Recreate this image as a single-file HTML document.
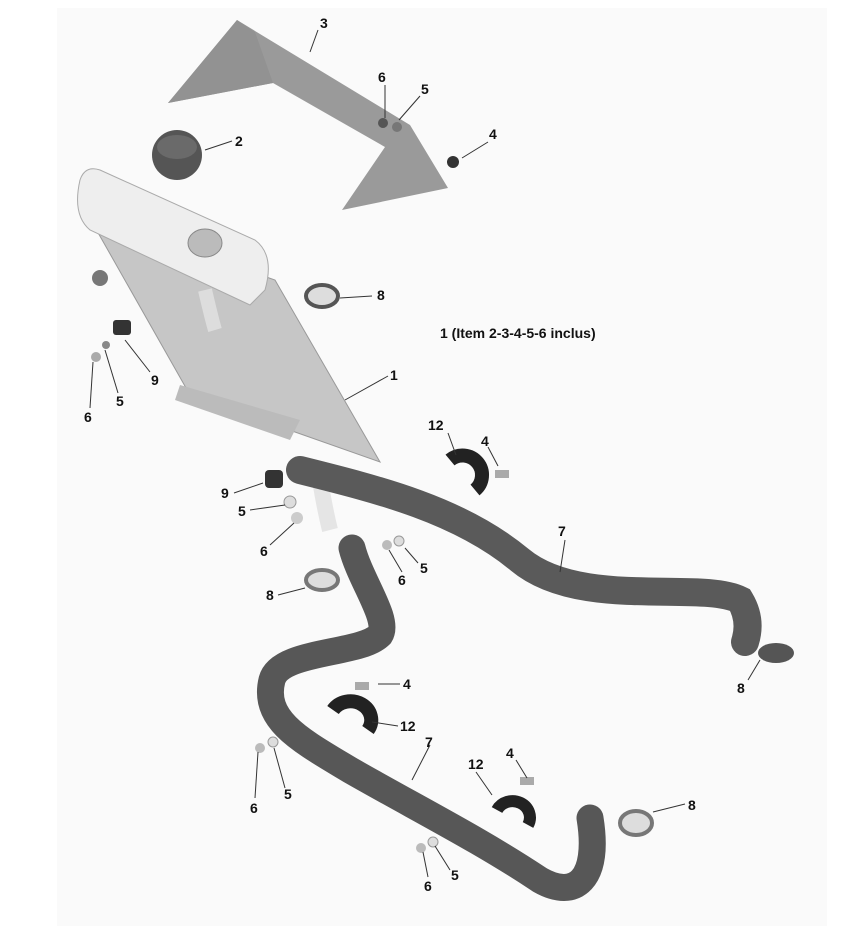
<!DOCTYPE html>
<html><head><style>
html,body{margin:0;padding:0;background:#fff;}
svg{display:block}
text{font-family:"Liberation Sans",Arial,sans-serif;font-weight:bold;font-size:14px;fill:#111}
</style></head><body>
<svg width="857" height="943" viewBox="0 0 857 943">
<rect x="0" y="0" width="857" height="943" fill="#fff"/>
<rect x="57" y="8" width="770" height="918" fill="#fafafa"/>
<!-- bracket 3 -->
<polygon points="168,103 237,20 410,125 448,188 342,210 385,147 273,83" fill="#9a9a9a"/>
<polygon points="237,20 255,32 273,83 168,103" fill="#929292"/>
<!-- cap 2 -->
<circle cx="177" cy="155" r="25" fill="#555"/>
<ellipse cx="177" cy="147" rx="20" ry="12" fill="#6a6a6a"/>
<!-- radiator core -->
<polygon points="88,215 275,280 380,462 190,395" fill="#c6c6c6" stroke="#999"/>
<polygon points="180,385 300,420 290,440 175,400" fill="#bbb"/>
<!-- tank -->
<path d="M80,180 Q85,165 100,170 L255,240 Q275,255 265,290 L250,305 L90,230 Q72,215 80,180Z" fill="#eeeeee" stroke="#aaa"/>
<ellipse cx="205" cy="243" rx="17" ry="14" fill="#bbb" stroke="#888"/>
<path d="M205,290 Q212,320 215,330" stroke="#ddd" stroke-width="14" fill="none"/>
<circle cx="100" cy="278" r="8" fill="#777"/>
<path d="M320,480 Q325,510 330,530" stroke="#e5e5e5" stroke-width="16" fill="none"/>
<!-- hose upper -->
<path d="M300,470 C380,490 460,510 520,560 C580,610 700,580 740,600 Q752,620 745,642" stroke="#5a5a5a" stroke-width="28" fill="none" stroke-linecap="round"/>
<!-- hose lower -->
<path d="M352,548 C360,580 390,620 380,635 C360,655 280,650 272,680 C262,720 300,740 350,770 C420,810 480,840 540,880 C575,900 600,880 590,818" stroke="#575757" stroke-width="27" fill="none" stroke-linecap="round"/>
<!-- small parts -->
<rect x="113" y="320" width="18" height="15" fill="#333" rx="3"/>
<circle cx="106" cy="345" r="4" fill="#888"/><circle cx="96" cy="357" r="5" fill="#aaa"/>
<rect x="265" y="470" width="18" height="18" fill="#333" rx="4"/>
<circle cx="290" cy="502" r="6" fill="#ddd" stroke="#999"/><circle cx="297" cy="518" r="6" fill="#ccc"/>
<ellipse cx="322" cy="296" rx="16" ry="11" fill="#ddd" stroke="#555" stroke-width="4"/>
<ellipse cx="322" cy="580" rx="16" ry="10" fill="#ddd" stroke="#777" stroke-width="4"/>
<ellipse cx="776" cy="653" rx="18" ry="10" fill="#555"/>
<ellipse cx="636" cy="823" rx="16" ry="12" fill="#ddd" stroke="#777" stroke-width="4"/>
<path d="M450,460 A18,18 0 1,1 475,490" stroke="#222" stroke-width="14" fill="none"/>
<rect x="495" y="470" width="14" height="8" fill="#aaa"/>
<path d="M333,710 A20,18 0 1,1 368,730" stroke="#222" stroke-width="14" fill="none"/>
<rect x="355" y="682" width="14" height="8" fill="#aaa"/>
<path d="M497,810 A16,15 0 1,1 528,825" stroke="#222" stroke-width="12" fill="none"/>
<rect x="520" y="777" width="14" height="8" fill="#aaa"/>
<circle cx="453" cy="162" r="6" fill="#333"/><circle cx="383" cy="123" r="5" fill="#555"/><circle cx="397" cy="127" r="5" fill="#777"/>
<circle cx="387" cy="545" r="5" fill="#bbb"/><circle cx="399" cy="541" r="5" fill="#ddd" stroke="#999"/>
<circle cx="260" cy="748" r="5" fill="#bbb"/><circle cx="273" cy="742" r="5" fill="#ddd" stroke="#999"/>
<circle cx="421" cy="848" r="5" fill="#bbb"/><circle cx="433" cy="842" r="5" fill="#ddd" stroke="#999"/>
<!-- leaders -->
<g stroke="#333" stroke-width="1" fill="none">
<line x1="310" y1="52" x2="318" y2="30"/>
<line x1="385" y1="118" x2="385" y2="85"/><line x1="399" y1="120" x2="420" y2="96"/>
<line x1="205" y1="150" x2="232" y2="141"/>
<line x1="462" y1="158" x2="488" y2="142"/>
<line x1="340" y1="298" x2="372" y2="296"/>
<line x1="345" y1="400" x2="388" y2="376"/>
<line x1="125" y1="340" x2="150" y2="372"/>
<line x1="105" y1="350" x2="118" y2="393"/><line x1="93" y1="362" x2="90" y2="408"/>
<line x1="448" y1="433" x2="456" y2="455"/><line x1="488" y1="447" x2="498" y2="466"/>
<line x1="234" y1="493" x2="263" y2="483"/><line x1="250" y1="510" x2="285" y2="505"/><line x1="270" y1="545" x2="294" y2="523"/>
<line x1="565" y1="540" x2="560" y2="572"/>
<line x1="405" y1="548" x2="418" y2="563"/><line x1="389" y1="550" x2="402" y2="572"/>
<line x1="278" y1="595" x2="305" y2="588"/>
<line x1="748" y1="680" x2="760" y2="660"/>
<line x1="378" y1="684" x2="400" y2="684"/><line x1="372" y1="722" x2="398" y2="726"/>
<line x1="430" y1="745" x2="412" y2="780"/>
<line x1="258" y1="752" x2="255" y2="798"/><line x1="274" y1="748" x2="285" y2="788"/>
<line x1="476" y1="772" x2="492" y2="795"/><line x1="516" y1="760" x2="527" y2="778"/>
<line x1="653" y1="812" x2="685" y2="804"/>
<line x1="423" y1="852" x2="428" y2="877"/><line x1="435" y1="846" x2="450" y2="870"/>
</g>
<!-- labels -->
<text x="320" y="28">3</text>
<text x="378" y="82">6</text><text x="421" y="94">5</text>
<text x="235" y="146">2</text>
<text x="489" y="139">4</text>
<text x="377" y="300">8</text>
<text x="440" y="338">1 (Item 2-3-4-5-6 inclus)</text>
<text x="390" y="380">1</text>
<text x="151" y="385">9</text><text x="116" y="406">5</text><text x="84" y="422">6</text>
<text x="428" y="430">12</text><text x="481" y="446">4</text>
<text x="221" y="498">9</text><text x="238" y="516">5</text><text x="260" y="556">6</text>
<text x="558" y="536">7</text>
<text x="398" y="585">6</text><text x="420" y="573">5</text>
<text x="266" y="600">8</text>
<text x="737" y="693">8</text>
<text x="403" y="689">4</text><text x="400" y="731">12</text>
<text x="425" y="747">7</text>
<text x="250" y="813">6</text><text x="284" y="799">5</text>
<text x="468" y="769">12</text><text x="506" y="758">4</text>
<text x="688" y="810">8</text>
<text x="424" y="891">6</text><text x="451" y="880">5</text>
</svg>
</body></html>
